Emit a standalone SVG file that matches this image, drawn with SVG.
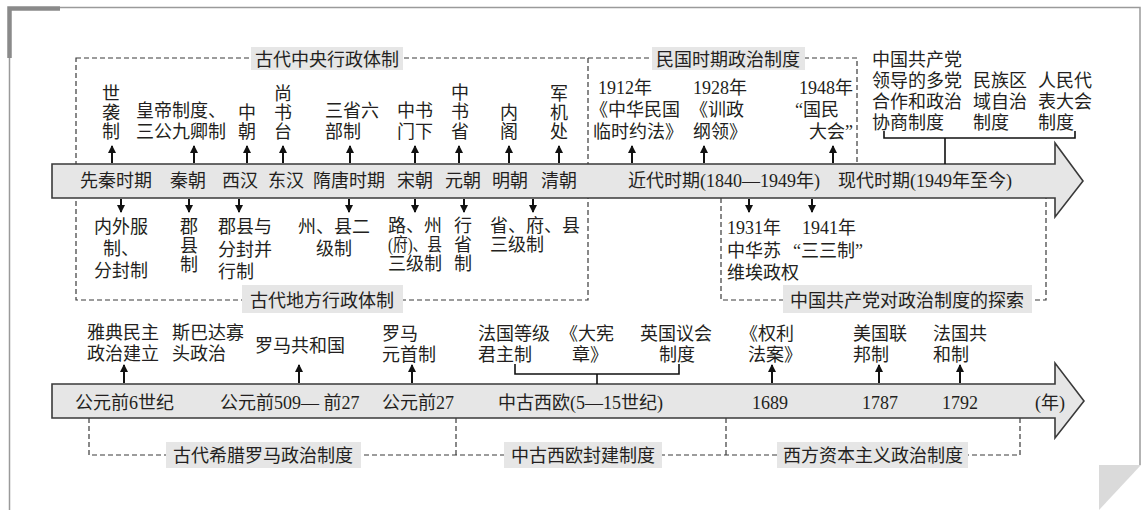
<svg xmlns="http://www.w3.org/2000/svg" width="1145" height="510" viewBox="0 0 1145 510">
<style>
.t{font-family:"Liberation Serif","Noto Sans CJK SC",serif;font-size:18px;fill:#231f20}
.m{text-anchor:middle}
.e{text-anchor:end}
.lab{fill:#e6e6e6}
.dash{fill:none;stroke:#3a3a3a;stroke-width:1.2;stroke-dasharray:5 3}
.ar{stroke:#111;stroke-width:2;fill:none;marker-end:url(#ah)}
.br{stroke:#111;stroke-width:1.6;fill:none}
.tl{fill:#e6e6e6;stroke:#3a3a3a;stroke-width:1.6}
</style>
<defs>
<marker id="ah" markerUnits="userSpaceOnUse" markerWidth="8" markerHeight="9" refX="7" refY="4" orient="auto">
<path d="M0,0 L8,4 L0,8 Z" fill="#111"/>
</marker>
</defs>
<rect width="1145" height="510" fill="#fff"/>
<g id="frame">
<path d="M60,7.5 H1140 V465" fill="none" stroke="#9a9a9a" stroke-width="1.5"/>
<path d="M9.5,58 V510" fill="none" stroke="#9a9a9a" stroke-width="1.5"/>
<path d="M9.5,58 V8.5 H60" fill="none" stroke="#8a8a8a" stroke-width="4.5"/>
<polygon points="1099,465 1141,465 1099,510" fill="#dadada"/>
</g>
<g id="dashed-boxes">
<rect class="dash" x="76" y="58" width="512" height="242"/>
<path class="dash" d="M588,58 H857 V164"/>
<path class="dash" d="M721,198 V300 H1046 V198"/>
<path class="dash" d="M89,418 V455 H1020 V418 M456,418 V455 M726,418 V455"/>
</g>
<g id="timeline-top">
<path class="tl" d="M52,164 H1055 V143 L1083,181 L1055,217 V198 H52 Z"/>
<text class="t" y="187"><tspan x="80">先秦时期</tspan><tspan x="170">秦朝</tspan><tspan x="222">西汉</tspan><tspan x="268">东汉</tspan><tspan x="313">隋唐时期</tspan><tspan x="397">宋朝</tspan><tspan x="445">元朝</tspan><tspan x="492">明朝</tspan><tspan x="541">清朝</tspan><tspan x="628">近代时期(1840—1949年)</tspan><tspan x="838">现代时期(1949年至今)</tspan></text>
</g>
<g id="timeline-bottom">
<path class="tl" d="M52,384 H1055 V363 L1084,401 L1055,438 V418 H52 Z"/>
<text class="t" y="409"><tspan x="75">公元前6世纪</tspan><tspan x="220">公元前509— 前27</tspan><tspan x="382">公元前27</tspan><tspan x="498">中古西欧(5—15世纪)</tspan><tspan x="752">1689</tspan><tspan x="862">1787</tspan><tspan x="942">1792</tspan><tspan x="1035">(年)</tspan></text>
</g>
<g id="group-labels">
<rect class="lab" x="251" y="47" width="152" height="23"/>
<text class="t m" x="327" y="66">古代中央行政体制</text>
<rect class="lab" x="652" y="47" width="153" height="23"/>
<text class="t m" x="728" y="66">民国时期政治制度</text>
<rect class="lab" x="242" y="285" width="161" height="28"/>
<text class="t m" x="322" y="307">古代地方行政体制</text>
<rect class="lab" x="783" y="285" width="249" height="28"/>
<text class="t m" x="907" y="307">中国共产党对政治制度的探索</text>
<rect class="lab" x="166" y="442" width="195" height="26"/>
<text class="t m" x="263" y="462">古代希腊罗马政治制度</text>
<rect class="lab" x="504" y="442" width="158" height="26"/>
<text class="t m" x="583" y="462">中古西欧封建制度</text>
<rect class="lab" x="777" y="442" width="191" height="26"/>
<text class="t m" x="873" y="462">西方资本主义政治制度</text>
</g>
<g id="central-nodes">
<g id="n-shixi"><text class="t m"><tspan x="111" y="100">世</tspan><tspan x="111" y="119">袭</tspan><tspan x="111" y="138">制</tspan></text></g>
<g id="n-huangdi"><text class="t"><tspan x="136" y="117">皇帝制度、</tspan><tspan x="136" y="138">三公九卿制</tspan></text></g>
<g id="n-zhongchao"><text class="t m"><tspan x="247" y="119">中</tspan><tspan x="247" y="138">朝</tspan></text></g>
<g id="n-shangshu"><text class="t m"><tspan x="283" y="100">尚</tspan><tspan x="283" y="119">书</tspan><tspan x="283" y="138">台</tspan></text></g>
<g id="n-sansheng"><text class="t"><tspan x="325" y="117">三省六</tspan><tspan x="325" y="138">部制</tspan></text></g>
<g id="n-zhongshumenxia"><text class="t"><tspan x="397" y="117">中书</tspan><tspan x="397" y="138">门下</tspan></text></g>
<g id="n-zhongshusheng"><text class="t m"><tspan x="460" y="99">中</tspan><tspan x="460" y="118">书</tspan><tspan x="460" y="138">省</tspan></text></g>
<g id="n-neige"><text class="t m"><tspan x="509" y="119">内</tspan><tspan x="509" y="138">阁</tspan></text></g>
<g id="n-junjichu"><text class="t m"><tspan x="559" y="100">军</tspan><tspan x="559" y="119">机</tspan><tspan x="559" y="138">处</tspan></text></g>
</g>
<g id="local-nodes">
<g id="n-neiwaifu"><text class="t m"><tspan x="121" y="233">内外服</tspan><tspan x="121" y="255">制、</tspan><tspan x="121" y="277">分封制</tspan></text></g>
<g id="n-junxian"><text class="t m"><tspan x="189" y="233">郡</tspan><tspan x="189" y="252">县</tspan><tspan x="189" y="271">制</tspan></text></g>
<g id="n-junxianyu"><text class="t"><tspan x="218" y="233">郡县与</tspan><tspan x="218" y="256">分封并</tspan><tspan x="218" y="278">行制</tspan></text></g>
<g id="n-zhouxian"><text class="t m"><tspan x="334" y="233">州、县二</tspan><tspan x="334" y="255">级制</tspan></text></g>
<g id="n-luzhou"><text class="t"><tspan x="388" y="232">路、州</tspan><tspan x="388" y="251" textLength="54" lengthAdjust="spacingAndGlyphs">(府)、县</tspan><tspan x="388" y="270">三级制</tspan></text></g>
<g id="n-xingsheng"><text class="t m"><tspan x="463" y="232">行</tspan><tspan x="463" y="251">省</tspan><tspan x="463" y="270">制</tspan></text></g>
<g id="n-shengfuxian"><text class="t"><tspan x="490" y="232">省、府、县</tspan><tspan x="490" y="251">三级制</tspan></text></g>
</g>
<g id="minguo-nodes">
<g id="n-1912"><text class="t"><tspan x="598" y="94">1912年</tspan><tspan x="590" y="116">《中华民国</tspan><tspan x="593" y="138">临时约法》</tspan></text></g>
<g id="n-1928"><text class="t"><tspan x="693" y="94">1928年</tspan><tspan x="690" y="116">《训政</tspan><tspan x="693" y="138">纲领》</tspan></text></g>
<g id="n-1948"><text class="t e"><tspan x="853" y="94">1948年</tspan><tspan x="839" y="116">“国民</tspan><tspan x="853" y="138">大会”</tspan></text></g>
</g>
<g id="cpc-nodes">
<g id="n-1931"><text class="t"><tspan x="727" y="234">1931年</tspan><tspan x="727" y="257">中华苏</tspan><tspan x="727" y="279">维埃政权</tspan></text></g>
<g id="n-1941"><text class="t"><tspan x="802" y="234">1941年</tspan><tspan x="793" y="257">“三三制”</tspan></text></g>
</g>
<g id="modern-nodes">
<g id="n-duodang"><text class="t"><tspan x="872" y="66">中国共产党</tspan><tspan x="872" y="87">领导的多党</tspan><tspan x="872" y="108">合作和政治</tspan><tspan x="872" y="129">协商制度</tspan></text></g>
<g id="n-minzu"><text class="t"><tspan x="973" y="87">民族区</tspan><tspan x="973" y="108">域自治</tspan><tspan x="973" y="129">制度</tspan></text></g>
<g id="n-renda"><text class="t"><tspan x="1038" y="87">人民代</tspan><tspan x="1038" y="108">表大会</tspan><tspan x="1038" y="129">制度</tspan></text></g>
</g>
<g id="west-nodes">
<g id="n-yadian"><text class="t"><tspan x="87" y="339">雅典民主</tspan><tspan x="87" y="360">政治建立</tspan></text></g>
<g id="n-sibada"><text class="t"><tspan x="172" y="339">斯巴达寡</tspan><tspan x="172" y="360">头政治</tspan></text></g>
<g id="n-gongheguo"><text class="t"><tspan x="255" y="352">罗马共和国</tspan></text></g>
<g id="n-yuanshou"><text class="t"><tspan x="382" y="340">罗马</tspan><tspan x="382" y="361">元首制</tspan></text></g>
<g id="n-dengji"><text class="t"><tspan x="478" y="340">法国等级</tspan><tspan x="478" y="361">君主制</tspan></text></g>
<g id="n-daxianzhang"><text class="t"><tspan x="560" y="340">《大宪</tspan><tspan x="572" y="361">章》</tspan></text></g>
<g id="n-yihui"><text class="t"><tspan x="640" y="340">英国议会</tspan><tspan x="659" y="361">制度</tspan></text></g>
<g id="n-quanli"><text class="t"><tspan x="740" y="340">《权利</tspan><tspan x="748" y="361">法案》</tspan></text></g>
<g id="n-lianbang"><text class="t"><tspan x="853" y="340">美国联</tspan><tspan x="853" y="361">邦制</tspan></text></g>
<g id="n-fagongheg"><text class="t"><tspan x="933" y="340">法国共</tspan><tspan x="933" y="361">和制</tspan></text></g>
</g>
<g id="connectors">
<line class="ar" x1="112" y1="163" x2="112" y2="146"/>
<line class="ar" x1="194" y1="163" x2="194" y2="146"/>
<line class="ar" x1="247" y1="163" x2="247" y2="146"/>
<line class="ar" x1="283" y1="163" x2="283" y2="146"/>
<line class="ar" x1="350" y1="163" x2="350" y2="146"/>
<line class="ar" x1="415" y1="163" x2="415" y2="146"/>
<line class="ar" x1="459" y1="163" x2="459" y2="146"/>
<line class="ar" x1="509" y1="163" x2="509" y2="146"/>
<line class="ar" x1="559" y1="163" x2="559" y2="146"/>
<line class="ar" x1="632" y1="163" x2="632" y2="146"/>
<line class="ar" x1="704" y1="163" x2="704" y2="146"/>
<line class="ar" x1="833" y1="163" x2="833" y2="146"/>
<line class="ar" x1="121" y1="199" x2="121" y2="212"/>
<line class="ar" x1="189" y1="199" x2="189" y2="212"/>
<line class="ar" x1="239" y1="199" x2="239" y2="212"/>
<line class="ar" x1="349" y1="199" x2="349" y2="212"/>
<line class="ar" x1="415" y1="199" x2="415" y2="212"/>
<line class="ar" x1="464" y1="199" x2="464" y2="212"/>
<line class="ar" x1="533" y1="199" x2="533" y2="212"/>
<line class="ar" x1="749" y1="199" x2="749" y2="212"/>
<line class="ar" x1="812" y1="199" x2="812" y2="212"/>
<line class="ar" x1="124" y1="383" x2="124" y2="365"/>
<line class="ar" x1="299" y1="383" x2="299" y2="365"/>
<line class="ar" x1="412" y1="383" x2="412" y2="365"/>
<line class="ar" x1="772" y1="383" x2="772" y2="365"/>
<line class="ar" x1="879" y1="383" x2="879" y2="365"/>
<line class="ar" x1="960" y1="383" x2="960" y2="365"/>
<path class="br" d="M884,131 V138 H1075 V131 M945,138 V164"/>
<path class="br" d="M515,364 V374 H679 V364 M597,374 V384"/>
</g>
</svg>
